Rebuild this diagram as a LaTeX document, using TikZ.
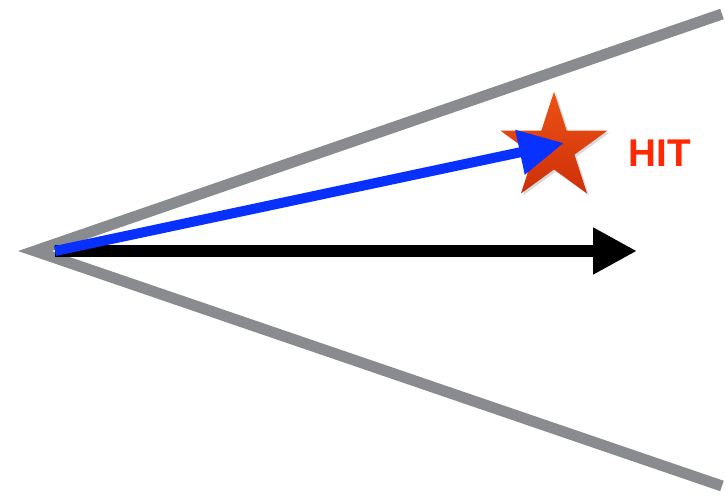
\documentclass[tikz,border=0pt]{standalone}
\usepackage{fontspec}
\setmainfont{Liberation Sans}
\usetikzlibrary{shapes.geometric,arrows.meta,shadows}

\definecolor{coneGray}{RGB}{137,139,143}
\definecolor{rayBlue}{RGB}{8,48,255}
\definecolor{starTop}{RGB}{238,82,22}
\definecolor{starBot}{RGB}{205,48,8}
\definecolor{hitRed}{RGB}{255,40,0}

\begin{document}
\begin{tikzpicture}[
    x=0.02cm, y=-0.02cm,
    cone/.style={draw=coneGray, line width=0.22cm, miter limit=10, line join=miter},
    ray/.style={line width=#1},
    hitstar/.style={
        star, star points=5, star point ratio=2.618,
        minimum size=2.25cm, inner sep=0pt,
        top color=starTop, bottom color=starBot, draw=none
    },
    lbl/.style={font=\bfseries\fontsize{22}{24}\selectfont, text=hitRed, inner sep=0pt}
]
\useasboundingbox (0,0) rectangle (725,496);

% Cone of view
\coordinate (apex)  at (35, 251);
\coordinate (upper) at (722, 14);
\coordinate (lower) at (722, 486);
\draw[cone] (upper) -- (apex) -- (lower);

% Rays
\coordinate (eye)     at (55, 251);
\coordinate (fwdtip)  at (637, 251);
\coordinate (hittip)  at (564, 143);
\draw[ray=0.24cm, -{Triangle[length=0.88cm, width=0.88cm]}] (eye) -- (fwdtip);

% Target and label
\node[hitstar, drop shadow={opacity=0.3, shadow xshift=0.04cm, shadow yshift=-0.04cm}] (target) at (554, 148) {};
\node[lbl] (hit) at (660, 153) {HIT};

\draw[ray=0.2cm, rayBlue, -{Triangle[length=0.9cm, width=0.86cm]}] (eye) -- (hittip);

\end{tikzpicture}
\end{document}
